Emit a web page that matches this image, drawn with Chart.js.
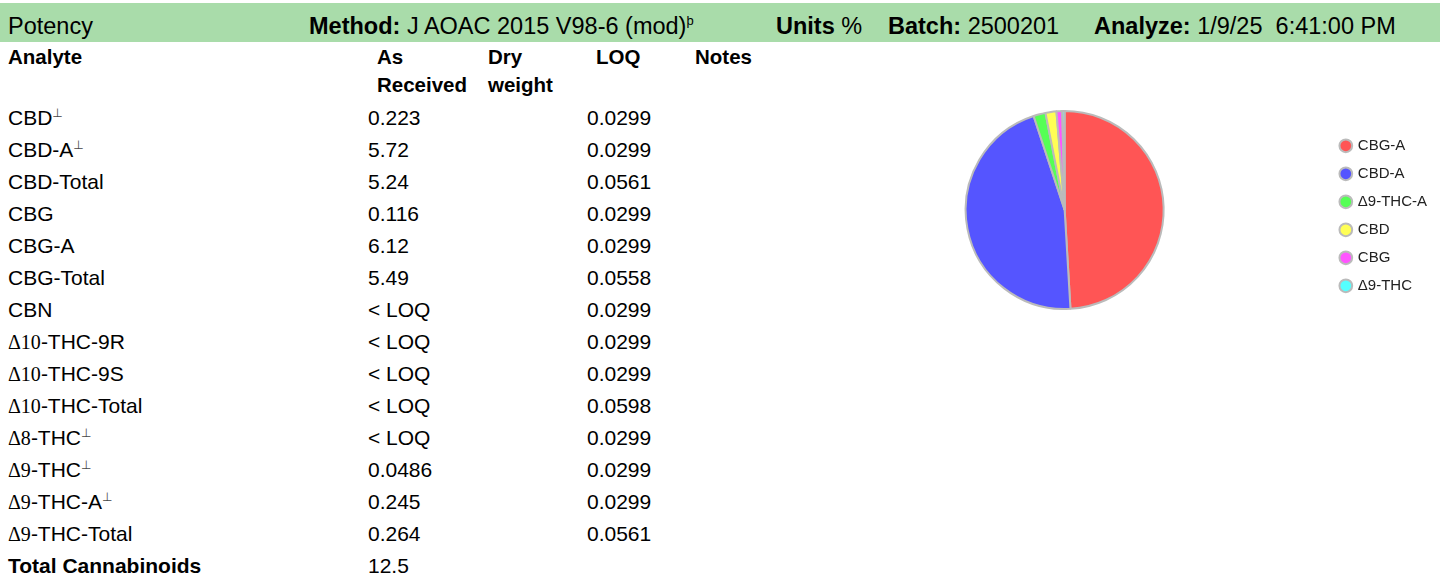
<!DOCTYPE html>
<html>
<head>
<meta charset="utf-8">
<script src="https://cdn.jsdelivr.net/npm/chart.js@4/dist/chart.umd.min.js"></script>
<style>
  html, body { margin: 0; padding: 0; background: #fff; }
  body { width: 1447px; height: 583px; position: relative; overflow: hidden; font-family: "Liberation Sans", Arial, sans-serif; color: #000; }
  .band { position: absolute; left: 0; top: 3px; width: 1440px; height: 39px; background: #a9dcaa; }
  .t { position: absolute; line-height: 1; white-space: pre; }
  .hd { font-size: 23.5px; }
  .ch { font-size: 20.5px; font-weight: bold; }
  .cell { font-size: 21px; }
  .sup { font-size: 12px; position: relative; top: -8px; font-family: "DejaVu Sans", sans-serif; color: #444; }
  .sup2 { font-size: 13px; position: relative; top: -9px; }
  .dl { font-family: "Liberation Serif", serif; font-size: 20px; }
  #pieWrap { position: absolute; }
</style>
</head>
<body>
<div class="band"></div>
<div id="page"></div>
<div id="pieWrap"><canvas id="pie"></canvas></div>
<script>
// ---- Data ----
const headerTitle = 'Potency';
const headerMethod = 'J AOAC 2015 V98-6 (mod)';
const headerUnits = '%';
const headerBatch = '2500201';
const headerAnalyze = '1/9/25  6:41:00 PM';

const columnHeads = ['Analyte', 'As\nReceived', 'Dry\nweight', 'LOQ', 'Notes'];

const analytes = ['CBD', 'CBD-A', 'CBD-Total', 'CBG', 'CBG-A', 'CBG-Total', 'CBN',
  'Δ10-THC-9R', 'Δ10-THC-9S', 'Δ10-THC-Total', 'Δ8-THC', 'Δ9-THC', 'Δ9-THC-A', 'Δ9-THC-Total', 'Total Cannabinoids'];
const flagged = [true, true, false, false, false, false, false, false, false, false, true, true, true, false, false];
const asReceived = ['0.223', '5.72', '5.24', '0.116', '6.12', '5.49', '< LOQ', '< LOQ', '< LOQ', '< LOQ', '< LOQ', '0.0486', '0.245', '0.264', '12.5'];
const loq = ['0.0299', '0.0299', '0.0561', '0.0299', '0.0299', '0.0558', '0.0299', '0.0299', '0.0299', '0.0598', '0.0299', '0.0299', '0.0299', '0.0561', ''];

const pieLabels = ['CBG-A', 'CBD-A', 'Δ9-THC-A', 'CBD', 'CBG', 'Δ9-THC'];
const pieValues = [6.12, 5.72, 0.245, 0.223, 0.116, 0.0486];
const pieColors = ['#ff5555', '#5555ff', '#55ff55', '#ffff55', '#ff55ff', '#55ffff'];

// ---- Layout ----
const page = document.getElementById('page');
function addText(html, cls, left, top) {
  const d = document.createElement('div');
  d.className = 't ' + cls;
  d.style.left = left + 'px';
  d.style.top = top + 'px';
  d.innerHTML = html;
  page.appendChild(d);
  return d;
}
const hdTop = 15;
addText(headerTitle, 'hd', 8, hdTop);
addText('<b>Method:</b> ' + headerMethod + '<span class="sup2">þ</span>', 'hd', 309, hdTop);
addText('<b>Units</b> ' + headerUnits, 'hd', 776, hdTop);
addText('<b>Batch:</b> ' + headerBatch, 'hd', 888, hdTop);
addText('<b>Analyze:</b> ' + headerAnalyze, 'hd', 1094, hdTop);

const headX = [8, 377, 488, 596, 695];
columnHeads.forEach((h, i) => {
  const lines = h.split('\n');
  lines.forEach((ln, j) => addText(ln, 'ch', headX[i], 46.5 + j * 28));
});

function fmtName(n, f) {
  let s = n.replace(/^(Δ\d+)/, '<span class="dl">$1</span>');
  if (f) s += '<span class="sup">⊥</span>';
  return s;
}
const rowTop0 = 107.3, rowStep = 32;
analytes.forEach((a, i) => {
  const top = rowTop0 + i * rowStep;
  const isTotal = a === 'Total Cannabinoids';
  addText(isTotal ? '<b>' + a + '</b>' : fmtName(a, flagged[i]), 'cell', 8, top);
  addText(asReceived[i], 'cell', 368, top);
  if (loq[i]) addText(loq[i], 'cell', 587, top);
});

// ---- Pie chart ----
const wrap = document.getElementById('pieWrap');
const L = 801, R = 1437, T = 110, H = 200;
wrap.style.left = L + 'px';
wrap.style.top = T + 'px';
wrap.style.width = (R - L) + 'px';
wrap.style.height = H + 'px';

new Chart(document.getElementById('pie'), {
  type: 'pie',
  data: {
    labels: pieLabels,
    datasets: [{
      data: pieValues,
      backgroundColor: pieColors,
      borderColor: '#bbbbbb',
      borderWidth: 2
    }]
  },
  options: {
    responsive: true,
    maintainAspectRatio: false,
    animation: false,
    layout: { padding: 0 },
    plugins: {
      tooltip: { enabled: false },
      legend: {
        position: 'right',
        title: { display: true, text: ' ', font: { size: 8 }, padding: 1 },
        labels: {
          usePointStyle: true,
          pointStyle: 'circle',
          boxWidth: 9,
          boxHeight: 9,
          padding: 13,
          color: '#222',
          font: { family: '"Liberation Sans", Arial, sans-serif', size: 15 },
          generateLabels: (chart) => pieLabels.map((lb, i) => ({
            text: lb,
            fillStyle: pieColors[i],
            strokeStyle: '#bbbbbb',
            lineWidth: 2,
            pointStyle: 'circle',
            hidden: false,
            index: i,
            fontColor: '#222'
          }))
        }
      }
    }
  }
});
</script>
</body>
</html>
